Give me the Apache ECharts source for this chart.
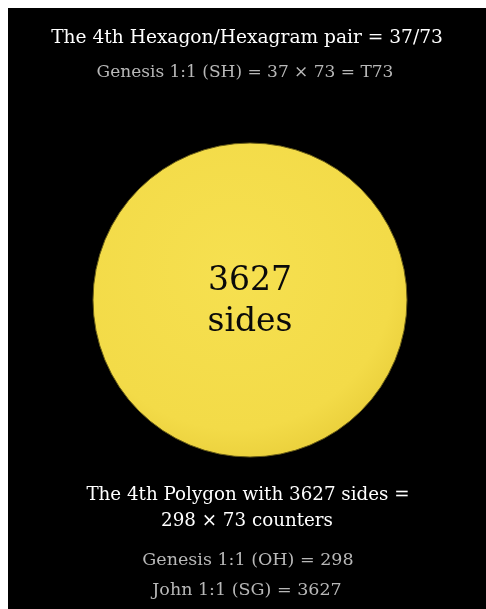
<!DOCTYPE html>
<html>
<head>
<meta charset="utf-8">
<script src="https://cdn.jsdelivr.net/npm/echarts@6/dist/echarts.min.js"></script>
<style>
html,body{margin:0;padding:0;background:#ffffff;}
#chart{position:absolute;left:8px;top:8px;width:478px;height:601px;background:#000;}
</style>
</head>
<body>
<div id="chart"></div>
<script>
const headerLines = ["The 4th Hexagon/Hexagram pair = 37/73", "Genesis 1:1 (SH) = 37 \u00d7 73 = T73"];
const footerLines = ["The 4th Polygon with 3627 sides =", "298 \u00d7 73 counters"];
const noteLines = ["Genesis 1:1 (OH) = 298", "John 1:1 (SG) = 3627"];
const polygonName = ["3627 sides"];
const polygonSides = [3627];
const sideWord = "sides";

const chart = echarts.init(document.getElementById('chart'), null, {renderer: 'canvas'});
const FONT = '"DejaVu Serif", serif';

function txt(t, x, y, size, color, lh) {
  const st = {text: t, fill: color, fontSize: size, fontFamily: FONT, align: 'center', verticalAlign: 'middle'};
  if (lh) st.lineHeight = lh;
  return {type: 'text', x: x, y: y, silent: true, z: 10, style: st};
}

chart.setOption({
  backgroundColor: '#000',
  animation: false,
  graphic: [
    txt(headerLines[0], 239, 30, 18.6, '#ffffff'),
    txt(headerLines[1], 237, 65, 17, '#b8b8b8'),
    txt(polygonSides[0] + '\n' + sideWord, 242, 294, 33, '#0a0a0a', 41),
    txt(footerLines[0], 240, 487, 18.3, '#ffffff'),
    txt(footerLines[1], 239, 513, 18.3, '#ffffff'),
    txt(noteLines[0], 240, 552, 17.5, '#b8b8b8'),
    txt(noteLines[1], 239, 582, 17.5, '#b8b8b8')
  ],
  series: [{
    type: 'pie',
    center: [242, 292],
    radius: [0, 157],
    silent: true,
    startAngle: 90,
    label: {show: false},
    labelLine: {show: false},
    itemStyle: {
      color: {
        type: 'radial', x: 0.45, y: 0.4, r: 0.6,
        colorStops: [{offset: 0, color: '#f6e050'}, {offset: 0.85, color: '#f3db48'}, {offset: 1, color: '#ecd23e'}]
      },
      borderColor: '#6b5f18', borderWidth: 1
    },
    data: polygonSides.map((v, i) => ({value: v, name: polygonName[i]}))
  }]
});
</script>
</body>
</html>
